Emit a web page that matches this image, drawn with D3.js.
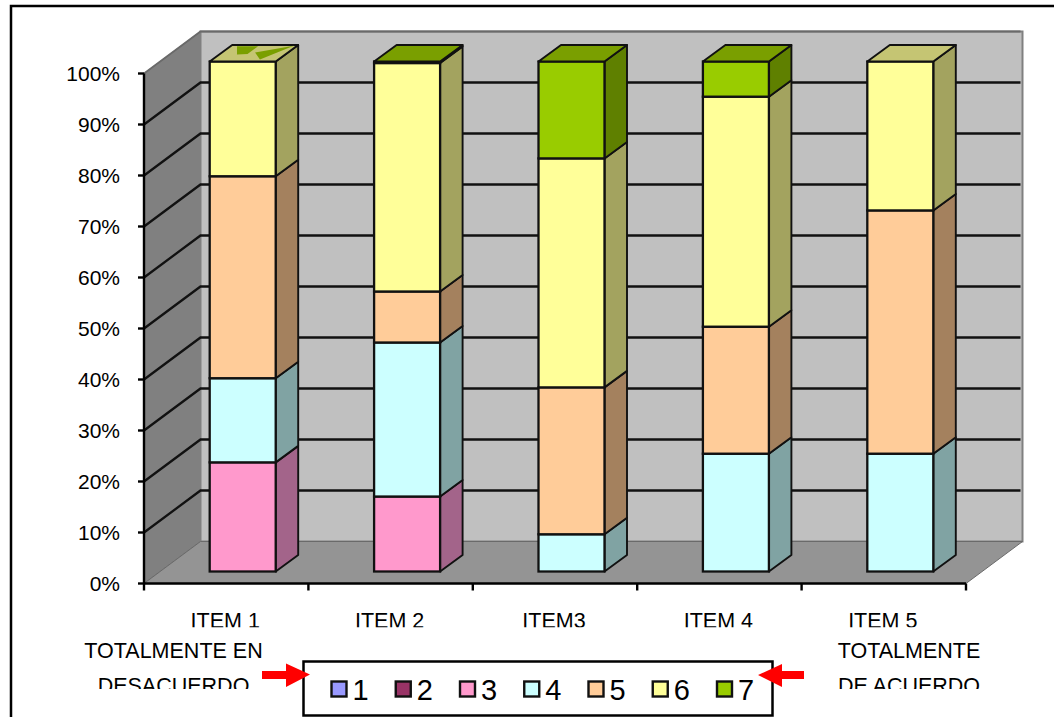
<!DOCTYPE html>
<html><head><meta charset="utf-8">
<script src="https://cdn.jsdelivr.net/npm/d3@7"></script>
<style>html,body{margin:0;padding:0;background:#fff}svg{display:block}text{font-family:"Liberation Sans",Arial,sans-serif;fill:#000}</style>
</head><body><svg id="c" width="1054" height="717"></svg>
<script>
const categories = ["ITEM 1","ITEM 2","ITEM3","ITEM 4","ITEM 5"];
const seriesNames = ["1","2","3","4","5","6","7"];
const s1 = [0,0,0,0,0];
const s2 = [0,0,0,0,0];
const s3 = [21.4,14.7,0,0,0];
const s4 = [16.5,30.2,7.3,23.1,23.1];
const s5 = [39.6,10,28.8,24.9,47.7];
const s6 = [22.5,44.8,44.9,45.1,29.2];
const s7 = [0,0.3,19,6.9,0];
const colors = ["#9999ff","#993366","#ff99cc","#ccffff","#ffcc99","#ffff99","#99cc00"];
const sideColors = ["#6464a3","#64213f","#a3648a","#80a3a3","#a4815e","#a3a35f","#5f8000"];
const capColors = ["#7a7ac4","#7a2850","#c47aa3","#a3c4c4","#c4a37a","#c5c573","#7a9f00"];
const yTicks = [0,10,20,30,40,50,60,70,80,90,100];
const seriesValues = [s1,s2,s3,s4,s5,s6,s7];

const svg = d3.select("#c");
const x = d3.scaleBand().domain(categories).range([144,966]);
const y = d3.scaleLinear().domain([0,100]).range([583.5,73.5]);
const wallDx = 56.5, wallDy = -42;
const barOffX = 16.5, barOffY = -12, barW = 66, sideDx = 22.5, sideDy = -16.5;
const pts = a => a.map(p=>p.join(",")).join(" ");
const xL = x.range()[0], xR = x.range()[1], y0 = y(0), y100 = y(100);

svg.append("polygon").attr("points",pts([[xL,y0],[xL,y100],[xL+wallDx,y100+wallDy],[xL+wallDx,y0+wallDy]])).attr("fill","#808080").attr("stroke","#6f6f6f").attr("stroke-width",1);
svg.append("polygon").attr("points",pts([[xL+wallDx,y100+wallDy],[xR+wallDx,y100+wallDy],[xR+wallDx,y0+wallDy],[xL+wallDx,y0+wallDy]])).attr("fill","#c0c0c0").attr("stroke","#808080").attr("stroke-width",2);
svg.append("polygon").attr("points",pts([[xL,y0],[xL+wallDx,y0+wallDy],[xR+wallDx,y0+wallDy],[xR,y0]])).attr("fill","#949494").attr("stroke","#6a6a6a").attr("stroke-width",1);

// gridlines
yTicks.filter(t=>t>0).forEach(t=>{
  const yy=y(t);
  svg.append("polyline").attr("points",pts([[xL,yy],[xL+wallDx,yy+wallDy],[xR+wallDx-2,yy+wallDy]]))
    .attr("fill","none").attr("stroke",t===100?"#6a6a6a":"#111").attr("stroke-width",t===100?1.8:2.3);
});

// axes
svg.append("line").attr("x1",xL).attr("x2",xL).attr("y1",y100).attr("y2",y0).attr("stroke","#000").attr("stroke-width",2.4);
svg.append("line").attr("x1",xL).attr("x2",xR).attr("y1",y0).attr("y2",y0).attr("stroke","#000").attr("stroke-width",2.4);
yTicks.forEach(t=>{
  svg.append("line").attr("x1",xL-6).attr("x2",xL).attr("y1",y(t)).attr("y2",y(t)).attr("stroke","#000").attr("stroke-width",2.4);
  svg.append("text").attr("x",120).attr("y",y(t)+7.5).attr("text-anchor","end").attr("font-size",21).text(t+"%");
});
categories.forEach((c,i)=>{
  svg.append("line").attr("x1",x(c)).attr("x2",x(c)).attr("y1",y0).attr("y2",y0+7).attr("stroke","#000").attr("stroke-width",2.4);
});
svg.append("line").attr("x1",xR).attr("x2",xR).attr("y1",y0).attr("y2",y0+7).attr("stroke","#000").attr("stroke-width",2.4);

// bars
categories.forEach((c,i)=>{
  const bx = x(c)+(x.bandwidth()-barW)/2+barOffX;
  let cum=0, last=-1;
  seriesValues.forEach((vals,k)=>{
    const v=vals[i]; if(!v) return;
    const yb=y(cum)+barOffY, yt=y(cum+v)+barOffY;
    svg.append("polygon").attr("points",pts([[bx+barW,yb],[bx+barW+sideDx,yb+sideDy],[bx+barW+sideDx,yt+sideDy],[bx+barW,yt]]))
      .attr("fill",sideColors[k]).attr("stroke","#111").attr("stroke-width",1.9).attr("stroke-linejoin","round");
    svg.append("rect").attr("x",bx).attr("y",yt).attr("width",barW).attr("height",yb-yt)
      .attr("fill",colors[k]).attr("stroke","#111").attr("stroke-width",2.3);
    cum+=v; last=k;
  });
  const yt=y(cum)+barOffY;
  svg.append("polygon").attr("points",pts([[bx,yt],[bx+sideDx,yt+sideDy],[bx+barW+sideDx,yt+sideDy],[bx+barW,yt]]))
    .attr("fill",capColors[last]).attr("stroke","#111").attr("stroke-width",1.9).attr("stroke-linejoin","round");
  if(i===0){
    // sliver of the zero-height top series showing through the cap
    const P=(u,v)=>[bx+u*barW+v*sideDx, yt+v*sideDy];
    svg.append("polygon").attr("points",pts([P(.1,.92),P(.42,.92),P(.42,.45),P(.27,.42)])).attr("fill","#7a9f00");
    svg.append("polygon").attr("points",pts([P(.5,.55),P(.95,.95),P(.72,.12)])).attr("fill","#7a9f00");
  }
});

// category labels (clipped as in the reference)
const defs=svg.append("defs");
defs.append("clipPath").attr("id","cl1").append("rect").attr("x",0).attr("y",600).attr("width",1054).attr("height",27.3);
defs.append("clipPath").attr("id","cl2").append("rect").attr("x",0).attr("y",632).attr("width",1054).attr("height",57);
categories.forEach((c,i)=>{
  svg.append("text").attr("x",x(c)+x.bandwidth()/2-1).attr("y",628).attr("text-anchor","middle")
    .attr("font-size",21.5).attr("clip-path","url(#cl1)").text(c);
});
const g2=svg.append("g").attr("clip-path","url(#cl2)");
[["TOTALMENTE EN",173.5,657.5],["DESACUERDO",173.5,692.5],["TOTALMENTE",909,657.5],["DE ACUERDO",909,692.5]].forEach(d=>{
  g2.append("text").attr("x",d[1]).attr("y",d[2]).attr("text-anchor","middle").attr("font-size",21.5).text(d[0]);
});

// frame
svg.append("path").attr("d","M11,717V6H1054").attr("fill","none").attr("stroke","#000").attr("stroke-width",2.5);

// legend
svg.append("rect").attr("x",303.5).attr("y",661.5).attr("width",469).attr("height",54).attr("fill","#fff").attr("stroke","#000").attr("stroke-width",2.5);
const lx=d3.scalePoint().domain(seriesNames).range([331.5,717]);
seriesNames.forEach((n,k)=>{
  svg.append("rect").attr("x",lx(n)).attr("y",681.5).attr("width",15).attr("height",15)
    .attr("fill",colors[k]).attr("stroke","#111").attr("stroke-width",2.4);
  svg.append("text").attr("x",lx(n)+21).attr("y",699.5).attr("font-size",29).text(n);
});

// arrows
svg.append("polygon").attr("points","262,671 286,671 286,663.5 310,674.5 286,687 286,679 262,679").attr("fill","#ff0000");
svg.append("polygon").attr("points","804,671 782,671 782,664 758,675 782,687 782,679 804,679").attr("fill","#ff0000");
</script></body></html>
